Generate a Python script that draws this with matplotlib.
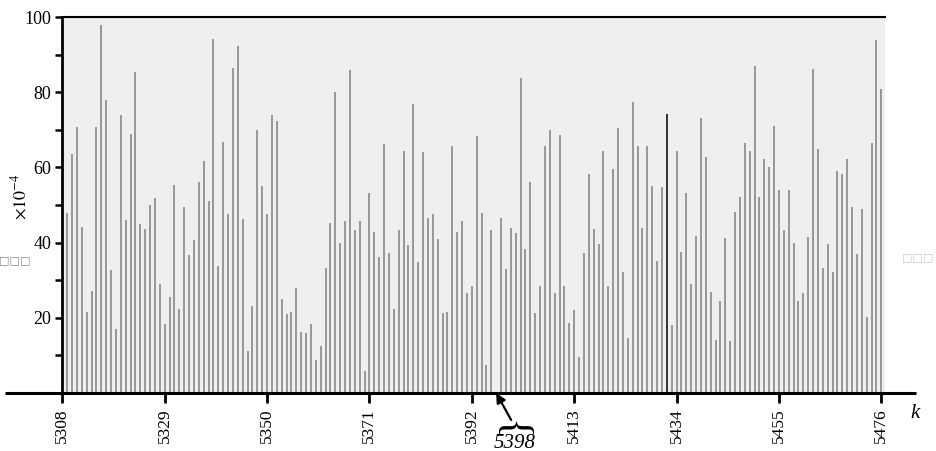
import matplotlib.pyplot as plt
import numpy as np

# bar heights (x10^-4), one per k starting at 5309
k_start = 5309
values = [
    47.9, 63.5, 70.8, 44.2, 21.6, 27.1, 70.8, 98.0, 77.9, 32.7,
    16.9, 73.9, 46.0, 68.9, 85.3, 44.9, 43.6, 50.0, 51.8, 29.0,
    18.4, 25.4, 55.3, 22.3, 49.5, 36.7, 40.7, 56.2, 61.7, 51.1,
    94.1, 33.8, 66.8, 47.6, 86.5, 92.4, 46.2, 11.3, 23.2, 69.9,
    55.1, 47.5, 73.9, 72.3, 25.0, 21.0, 21.5, 28.0, 16.1, 16.0,
    18.4, 8.8, 12.6, 33.2, 45.1, 80.0, 39.8, 45.8, 85.9, 43.4,
    45.7, 5.9, 53.1, 42.9, 36.3, 66.1, 37.2, 22.3, 43.4, 64.4,
    39.4, 76.8, 34.9, 64.2, 46.6, 47.6, 40.9, 21.2, 21.6, 65.8,
    42.9, 45.7, 26.5, 28.5, 68.4, 47.8, 7.4, 43.4, 0.0, 46.6,
    32.9, 43.8, 42.6, 83.7, 38.2, 56.2, 21.2, 28.5, 65.7, 69.9,
    26.5, 68.6, 28.5, 18.5, 22.1, 9.7, 37.3, 58.2, 43.6, 39.5,
    64.4, 28.5, 59.5, 70.4, 32.3, 14.5, 77.3, 65.7, 43.8, 65.8,
    55.1, 35.1, 54.9, 74.1, 18.1, 64.4, 37.6, 53.1, 28.9, 41.8,
    73.1, 62.8, 26.8, 14.1, 24.5, 41.3, 13.8, 48.2, 52.2, 66.6,
    64.4, 87.1, 52.0, 62.2, 60.2, 71.0, 54.0, 43.4, 54.0, 39.8,
    24.5, 26.5, 41.4, 86.2, 64.9, 33.3, 39.6, 32.3, 59.0, 58.2,
    62.2, 49.5, 36.9, 48.9, 20.3, 66.4, 93.9, 80.9,
]
highlight_k = 5432
x_ticks = [5308, 5329, 5350, 5371, 5392, 5413, 5434, 5455, 5476]
y_major = [20, 40, 60, 80, 100]
y_minor = [10, 30, 50, 70, 90]
gap_label = "5398"
side_label = "\u25a1\u25a1\u25a1"

values = np.array(values)
k = np.arange(k_start, k_start + len(values))

plt.rcParams['font.family'] = ['Liberation Serif', 'DejaVu Serif']
plt.rcParams['mathtext.fontset'] = 'stix'

fig = plt.figure(figsize=(9.37, 4.51), dpi=100)
ax = fig.add_axes([0.0665, 0.1286, 0.8777, 0.8337])
ax.set_facecolor('#efefef')

colors = ['black' if kk == highlight_k else '#808080' for kk in k]
ax.vlines(k, 0, values, colors=colors, linewidth=1.1)

ax.set_xlim(5308, 5476.7)
ax.set_ylim(0, 100)

ax.spines['right'].set_visible(False)
ax.spines['bottom'].set_visible(False)
ax.spines['left'].set_linewidth(2)
ax.spines['top'].set_linewidth(1.5)

# long bottom axis line sticking out on both sides
ax.plot([-0.0697, 1.0386], [0, 0], transform=ax.transAxes, color='black',
        lw=2.2, clip_on=False, solid_capstyle='butt', zorder=5)

ax.set_xticks(x_ticks)
ax.set_xticklabels([str(t) for t in x_ticks], rotation=90, fontsize=12.5)
ax.tick_params(axis='x', direction='out', length=7, width=2, pad=4)
ax.set_yticks(y_major)
ax.set_yticks(y_minor, minor=True)
ax.tick_params(axis='y', which='both', direction='out', length=5, width=1.8,
               labelsize=13, pad=3)

fig.text(20 / 937, 1 - 197 / 451, r'$\times 10^{-4}$', rotation=90,
         ha='center', va='center', fontsize=13)
fig.text(915 / 937, 1 - 413 / 451, 'k', style='italic', fontsize=15,
         ha='center', va='center')
fig.text(15 / 937, 1 - 260 / 451, side_label, fontsize=8, color='#8a8a8a',
         family='DejaVu Sans', ha='center', va='center')
fig.text(918 / 937, 1 - 257 / 451, side_label, fontsize=8, color='#c8c8c8',
         family='DejaVu Sans', ha='center', va='center')

# arrow + brace + label at the missing k
gap_k = k[values == 0][0]
ax.annotate('', xy=(gap_k, 0), xytext=(15, -27), textcoords='offset pixels',
            arrowprops=dict(arrowstyle='-|>', color='black', lw=1.6,
                            mutation_scale=14, shrinkA=0, shrinkB=0),
            annotation_clip=False)
ax.annotate('}', xy=(gap_k, 0), xytext=(19, -31), textcoords='offset pixels',
            rotation=90, ha='center', va='center', fontsize=30,
            annotation_clip=False)
ax.annotate(gap_label, xy=(gap_k, 0), xytext=(18, -50), textcoords='offset pixels',
            ha='center', va='center', style='italic', fontsize=15,
            annotation_clip=False)

fig.savefig('out.png', dpi=100)
